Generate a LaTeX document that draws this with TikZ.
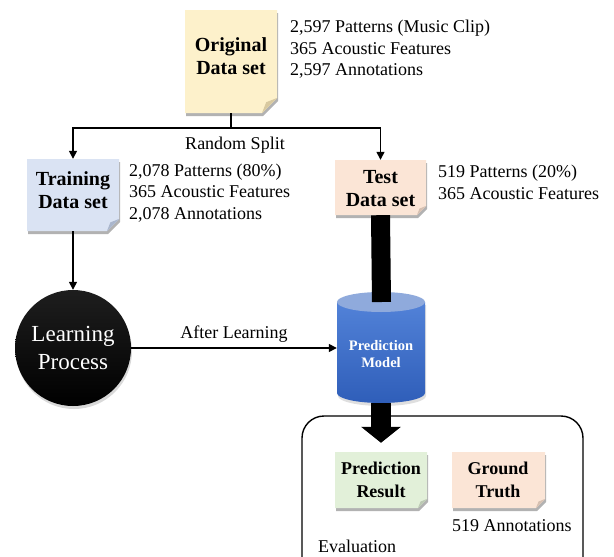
\documentclass[tikz,border=0pt]{standalone}
\usepackage{fontspec}
\setmainfont{Liberation Serif}
\usetikzlibrary{arrows.meta,shadows}
\definecolor{yelf}{HTML}{FDF1CB}
\definecolor{yelk}{HTML}{D8C9A0}
\definecolor{bluf}{HTML}{DAE3F3}
\definecolor{bluk}{HTML}{AAB6CC}
\definecolor{pchf}{HTML}{FBE5D6}
\definecolor{pchk}{HTML}{D6C0B1}
\definecolor{grnf}{HTML}{E2F0D9}
\definecolor{grnk}{HTML}{BCC9B4}
\definecolor{cyltop}{HTML}{8FAADC}
\definecolor{cylhi}{HTML}{5282D8}
\definecolor{cyllo}{HTML}{2F5EB9}
\tikzset{
  lbl/.style={font=\fontsize{18}{21.5}\selectfont, align=left, inner sep=0pt},
  ttl/.style={font=\fontsize{20}{23}\selectfont\bfseries, align=center, inner sep=0pt},
  conn/.style={line width=1.4pt, -{Triangle[length=8pt,width=8pt]}},
  plainline/.style={line width=1.4pt},
  noteshadow/.style={drop shadow={shadow xshift=1pt, shadow yshift=-3pt, opacity=.3, fill=black}},
}
% name, x1, y1, x2, y2, fill, fold colour, fold size
\newcommand\notebox[8]{%
  \fill[#6, noteshadow] (#2,#3) -- (#4,#3) -- (#4,#5-#8) -- (#4-#8,#5) -- (#2,#5) -- cycle;
  \fill[#7] (#4-#8,#5) -- (#4-0.72*#8,#5-0.72*#8) -- (#4,#5-#8) -- cycle;
  \node[inner sep=0pt, minimum width=#4-#2, minimum height=#5-#3] (#1) at ({(#2+#4)/2},{(#3+#5)/2}) {};
}
\begin{document}
\begin{tikzpicture}[x=1pt,y=-1pt]
\useasboundingbox (0,0) rectangle (614,557);
\clip (0,0) rectangle (614,557);

% Evaluation frame
\draw[line width=1.4pt, rounded corners=22pt] (302,416) rectangle (583,590);

% notes
\notebox{orig}{185}{10}{277}{113}{yelf}{yelk}{15}
\node[ttl] at (231,56) {Original\\Data set};
\node[lbl, anchor=west] (origtxt) at (290,49.5) {2,597 Patterns (Music Clip)\\365 Acoustic Features\\2,597 Annotations};

\notebox{train}{27}{159}{119}{231}{bluf}{bluk}{12}
\node[ttl] at (73,190.5) {Training\\Data set};
\node[lbl, anchor=west] (traintxt) at (129,193) {2,078 Patterns (80\%)\\365 Acoustic Features\\2,078 Annotations};

\notebox{test}{335}{160}{426}{215}{pchf}{pchk}{9}
\node[ttl] at (380.5,188.5) {Test\\Data set};
\node[lbl, anchor=west] (testtxt) at (438,182.5) {519 Patterns (20\%)\\365 Acoustic Features};

\notebox{predres}{335}{452}{427}{508}{grnf}{grnk}{9}
\node[ttl, font=\fontsize{18}{23}\selectfont\bfseries] at (381,479.5) {Prediction\\Result};

\notebox{ground}{452}{452}{545}{508}{pchf}{pchk}{9}
\node[ttl, font=\fontsize{18}{23}\selectfont\bfseries] at (498,480) {Ground\\Truth};
\node[lbl, anchor=west] (gtxt) at (452,526) {519 Annotations};
\node[lbl, anchor=west] (evtxt) at (318,546) {Evaluation};

% split connectors
\coordinate (split) at (231,128);
\draw[plainline] (orig.south) -- (split);
\draw[conn] (split) -| (train.north);
\draw[conn] (split) -| (test.north);
\node[lbl] (rs) at (235,145) {Random Split};

% learning process
\node[circle, minimum size=116pt, inner sep=0pt, top color={rgb,255:red,30;green,30;blue,30}, bottom color=black,
      drop shadow={shadow xshift=1pt, shadow yshift=-3pt, opacity=.3},
      text=white, font=\fontsize{23}{28}\selectfont, align=center] (learn) at (73,348) {Learning\\Process};
\draw[conn] (train.south) -- (learn.north);

% cylinder
\shade[top color=cylhi, bottom color=cyllo, drop shadow={shadow xshift=1pt, shadow yshift=-3pt, opacity=.25}]
  (337,302) -- (337,393) arc[start angle=180, end angle=0, x radius=44, y radius=10] -- (425,302) -- cycle;
\fill[cyltop] (381,302) ellipse[x radius=44, y radius=10];
\node[inner sep=0pt, minimum width=88pt, minimum height=110pt] (cyl) at (381,348) {};
\node[font=\fontsize{14.5}{17}\selectfont\bfseries, text=white, align=center, inner sep=0pt] at (381,354.5) {Prediction\\Model};

\coordinate (cyltopc) at (381.5,302);
\draw[line width=19pt] (test.south) -- (cyltopc);
\draw[line width=20pt, -{Triangle[length=16pt,width=39pt]}, shorten >=9pt] (cyl.south) -- (predres.north);

\draw[conn] (learn.east) -- (cyl.west);
\node[lbl] (al) at (234,334) {After Learning};
\end{tikzpicture}
\end{document}
